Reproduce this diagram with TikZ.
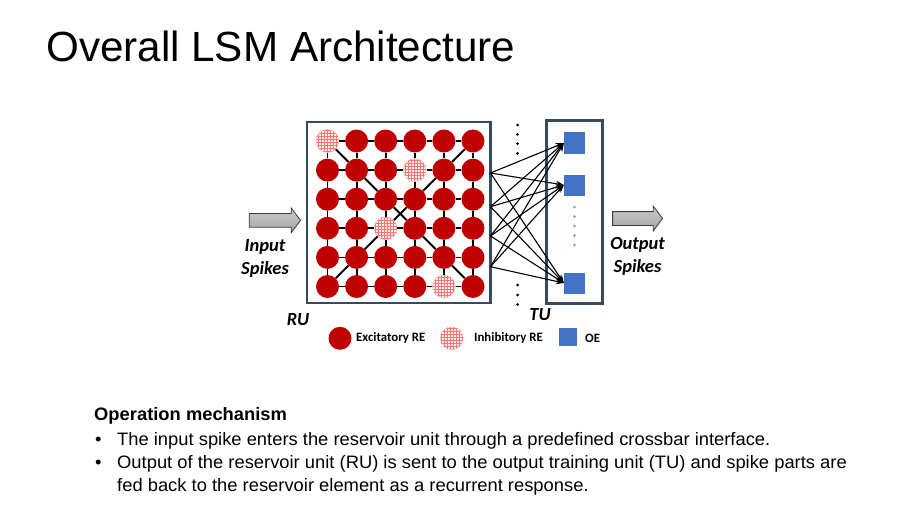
\documentclass[tikz,border=0pt]{standalone}
\usepackage{fontspec}
\setmainfont{Liberation Sans}
\newfontfamily\labelfont{Carlito}
\newfontfamily\bodyfont[FakeStretch=1.02]{Liberation Sans}
\usetikzlibrary{arrows.meta,patterns,shapes.arrows}
\definecolor{exred}{RGB}{192,0,0}
\definecolor{oeblue}{RGB}{68,114,196}
\definecolor{boxline}{RGB}{55,75,95}
\tikzset{
  exc/.style={circle,fill=exred,minimum size=23pt,inner sep=0pt},
  inh/.style={fill=none,draw=red!30,preaction={fill=red!6},pattern=grid,pattern color=red!55},
  cell 0-0/.style={inh}, cell 1-3/.style={inh}, cell 3-2/.style={inh}, cell 5-4/.style={inh},
  oe/.style={rectangle,fill=oeblue,minimum size=21pt,inner sep=0pt},
  unit/.style={draw=boxline,line width=2.2pt,inner sep=0pt},
  link/.style={line width=1.8pt},
  bigarrow/.style={single arrow,inner xsep=0pt,inner ysep=6.5pt,single arrow head extend=5.5pt,
    single arrow tip angle=106,top color=gray!40,bottom color=gray!72,draw=gray!45!black,line width=0.8pt},
  spk/.style={font=\labelfont\fontsize{18.5}{23}\selectfont\bfseries\itshape,align=center,inner sep=0pt},
  leg/.style={font=\labelfont\fontsize{12.8}{15}\selectfont\bfseries,anchor=west,inner sep=0pt},
  body/.style={font=\bodyfont\fontsize{18}{22}\selectfont,anchor=base west,inner sep=0pt}
}
\begin{document}
\begin{tikzpicture}[x=1pt,y=-1pt]
  \useasboundingbox (0,0) rectangle (898,511);
  \node[anchor=base west,inner sep=0pt,font=\fontsize{42.2}{50}\selectfont] (title) at (46,61.7) {Overall LSM Architecture};

  % reservoir unit
  \node[unit,minimum width=183.5pt,minimum height=181pt] (ru) at (398.8,212.5) {};
  \foreach \r in {0,...,5}
    \foreach \c in {0,...,5}
      \node[exc,cell \r-\c/.try] (n-\r-\c) at (327.5+29.1*\c,141+29.1*\r) {};
  \foreach \r in {0,...,5}
    \foreach \c in {0,...,4}{
      \pgfmathtruncatemacro\d{\c+1}
      \draw[link] (n-\r-\c) -- (n-\r-\d);
      \draw[link] (n-\c-\r) -- (n-\d-\r);
    }
  \foreach \i in {0,...,4}{
    \pgfmathtruncatemacro\j{\i+1}
    \pgfmathtruncatemacro\k{5-\i}
    \pgfmathtruncatemacro\m{4-\i}
    \draw[link] (n-\i-\i) -- (n-\j-\j);
    \draw[link] (n-\i-\k) -- (n-\j-\m);
  }

  % training unit
  \node[unit,minimum width=56pt,minimum height=183pt] (tu) at (574.5,212) {};
  \node[oe] (o1) at (574.5,143) {};
  \node[oe] (o2) at (574.5,185) {};
  \node[oe] (o3) at (574.5,283) {};
  \foreach \y in {207,216.5,226,235.5,245}
    \fill[oeblue!75] (574.5,\y) circle (1.3);
  \foreach \y in {125,134.3,143.7,153.3,285,295,304.5}
    \fill (517.5,\y) circle (1.5);

  \coordinate (s1) at (490.5,173);
  \coordinate (s2) at (490.5,206.7);
  \coordinate (s3) at (490.5,236);
  \coordinate (s4) at (490.5,266.7);
  \foreach \s in {1,...,4}
    \foreach \t in {1,2,3}
      \draw[-{Stealth[length=8pt,width=6pt]},line width=1.1pt] (s\s) -- (o\t.west);

  % input / output
  \node[bigarrow,minimum height=51.3pt] (inarrow) at (272.3,220.3) {};
  \node[bigarrow,minimum height=50pt] (outarrow) at (635,218.5) {};
  \node[spk] (inlbl) at (265,258.3) {Input\\Spikes};
  \node[spk] (outlbl) at (637.5,256) {Output\\Spikes};
  \node[spk] (rulbl) at (298,320) {RU};
  \node[spk] (tulbl) at (540,315) {TU};

  % legend
  \node[exc] (legexc) at (340,338.3) {};
  \node[leg] (legexct) at (356,338.3) {Excitatory RE};
  \node[exc,inh] (leginh) at (451.7,338.3) {};
  \node[leg] (leginht) at (474,338.3) {Inhibitory RE};
  \node[oe,minimum size=18pt] (legoe) at (568,336.7) {};
  \node[leg] (legoet) at (585,338.3) {OE};

  % text
  \node[body,font=\bodyfont\fontsize{18}{22}\selectfont\bfseries] (mech) at (94,420) {Operation mechanism};
  \node[body] (b1) at (95,445) {\textbullet};
  \node[body] (t1) at (117,445) {The input spike enters the reservoir unit through a predefined crossbar interface.};
  \node[body] (b2) at (95,468.3) {\textbullet};
  \node[body] (t2) at (117,468.3) {Output of the reservoir unit (RU) is sent to the output training unit (TU) and spike parts are};
  \node[body] (t3) at (117,491.7) {fed back to the reservoir element as a recurrent response.};
\end{tikzpicture}
\end{document}
